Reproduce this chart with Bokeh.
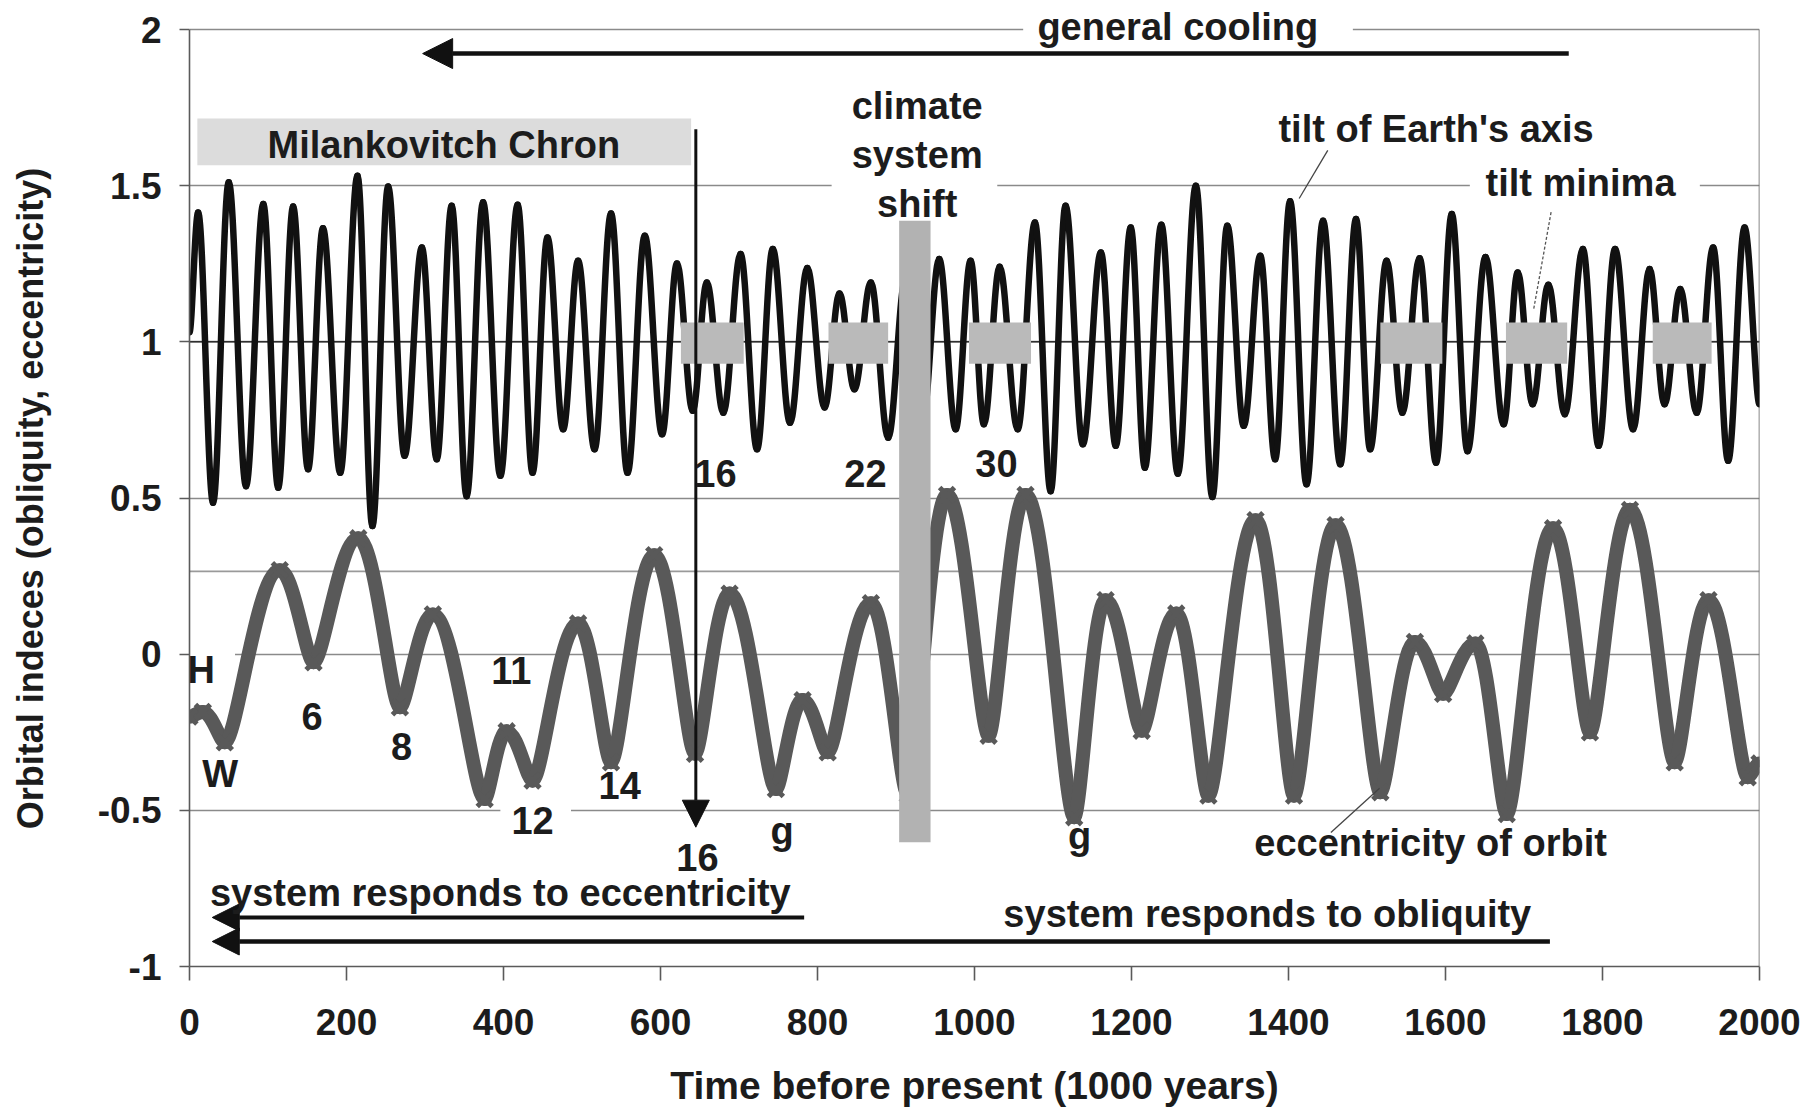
import numpy as np
from bokeh.plotting import figure
from bokeh.models import Range1d, FixedTicker, Label, Span, Arrow, NormalHead
from bokeh.embed import file_html
from bokeh.resources import INLINE

# ---------------- data ----------------
# obliquity (tilt) index: turning points of the black curve, time in kyr
obl_t = [0, 11, 30, 50, 72, 94, 113, 132, 151, 170, 192, 214, 233, 253, 274, 296,
         315, 334, 353, 374, 396, 418, 437, 456, 476, 495, 516, 537, 558, 580, 602,
         621, 641, 659, 680, 702, 723, 743, 765, 787, 809, 828, 847, 868, 890, 912,
         934, 955, 976, 995, 1012, 1032, 1055, 1077, 1097, 1116, 1138, 1161, 1180,
         1199, 1217, 1238, 1259, 1282, 1303, 1322, 1343, 1364, 1383, 1402, 1423,
         1444, 1466, 1486, 1504, 1525, 1545, 1567, 1588, 1608, 1628, 1651, 1674,
         1692, 1711, 1731, 1752, 1775, 1795, 1816, 1839, 1860, 1879, 1899, 1920,
         1941, 1960, 1981, 2000]
obl_v = [1.03, 1.414, 0.485, 1.511, 0.538, 1.441, 0.533, 1.433, 0.592, 1.364, 0.581,
         1.532, 0.41, 1.497, 0.635, 1.302, 0.624, 1.436, 0.506, 1.447, 0.571, 1.439,
         0.581, 1.334, 0.72, 1.26, 0.656, 1.411, 0.581, 1.34, 0.704, 1.251, 0.779,
         1.19, 0.773, 1.281, 0.656, 1.297, 0.741, 1.236, 0.79, 1.155, 0.848, 1.19,
         0.693, 1.2, 0.75, 1.265, 0.72, 1.26, 0.736, 1.24, 0.72, 1.382, 0.522, 1.436,
         0.672, 1.286, 0.667, 1.366, 0.597, 1.375, 0.578, 1.5, 0.503, 1.372, 0.731,
         1.276, 0.624, 1.45, 0.544, 1.388, 0.608, 1.393, 0.656, 1.26, 0.773, 1.268,
         0.613, 1.409, 0.65, 1.272, 0.736, 1.222, 0.80, 1.183, 0.768, 1.297, 0.667,
         1.297, 0.72, 1.233, 0.80, 1.169, 0.773, 1.302, 0.619, 1.366, 0.80]

# eccentricity index: turning points of the grey curve
ecc_t = [0, 17, 45, 115, 158, 215, 268, 310, 376, 404, 437, 495, 537, 592, 644, 688,
         747, 781, 813, 868, 915, 965, 1018, 1065, 1127, 1167, 1213, 1257, 1298,
         1358, 1407, 1460, 1517, 1561, 1597, 1638, 1678, 1737, 1784, 1835, 1892,
         1935, 1985, 2000]
ecc_v = [-0.20, -0.185, -0.282, 0.269, -0.026, 0.371, -0.17, 0.127, -0.464, -0.247,
         -0.405, 0.098, -0.346, 0.317, -0.319, 0.194, -0.432, -0.147, -0.314, 0.163,
         -0.45, 0.51, -0.261, 0.51, -0.522, 0.173, -0.245, 0.13, -0.453, 0.429,
         -0.453, 0.413, -0.442, 0.039, -0.127, 0.034, -0.512, 0.403, -0.25, 0.462,
         -0.346, 0.173, -0.394, -0.35]

# tilt-minima intervals (grey boxes on the obliquity curve)
tilt_min_start = [626, 814, 993, 1517, 1677, 1864]
tilt_min_end = [706, 890, 1072, 1596, 1755, 1939]

x_ticks = [0, 200, 400, 600, 800, 1000, 1200, 1400, 1600, 1800, 2000]
x_tick_labels = ["0", "200", "400", "600", "800", "1000", "1200", "1400", "1600", "1800", "2000"]
y_ticks = [-1, -0.5, 0, 0.5, 1, 1.5, 2]
y_tick_labels = ["-1", "-0.5", "0", "0.5", "1", "1.5", "2"]

# ---------------- helpers ----------------
FONT = "Liberation Sans"
TXT = "#1c1c1c"
DY = 0.037   # baseline correction for labels
Y_TOP = 2 + 29 / 312.33   # frame reaches the top of the page so the top label is not clipped


def bezier_columns(ts, vs, k_peak, k_trough, k_end=0.3):
    t = np.asarray(ts, float)
    v = np.asarray(vs, float)
    n = len(t)
    k = np.full(n, k_end)
    for i in range(1, n - 1):
        if v[i] >= v[i - 1] and v[i] >= v[i + 1]:
            k[i] = k_peak
        else:
            k[i] = k_trough
    dt = t[1:] - t[:-1]
    return dict(x0=t[:-1], y0=v[:-1], x1=t[1:], y1=v[1:],
                cx0=t[:-1] + k[:-1] * dt, cy0=v[:-1],
                cx1=t[1:] - k[1:] * dt, cy1=v[1:])


p = figure(width=1806, height=1110, x_range=Range1d(0, 2000), y_range=Range1d(-1, Y_TOP),
           output_backend="svg", toolbar_location=None,
           min_border_left=189, min_border_right=47, min_border_top=0, min_border_bottom=144)
p.background_fill_color = "white"
p.border_fill_color = "white"
p.outline_line_color = None

# axes
p.xaxis.ticker = FixedTicker(ticks=x_ticks)
p.xaxis.major_label_overrides = {t: s for t, s in zip(x_ticks, x_tick_labels)}
p.yaxis.ticker = FixedTicker(ticks=y_ticks)
p.yaxis.major_label_overrides = {t: s for t, s in zip(y_ticks, y_tick_labels)}
p.yaxis.bounds = (-1, 2)
for ax in (p.xaxis, p.yaxis):
    ax.axis_line_color = "#5a5a5a"
    ax.axis_line_width = 1.6
    ax.major_tick_line_color = "#5a5a5a"
    ax.major_tick_line_width = 1.6
    ax.major_tick_in = 0
    ax.minor_tick_line_color = None
    ax.major_label_text_font = FONT
    ax.major_label_text_font_style = "bold"
    ax.major_label_text_font_size = "37px"
    ax.major_label_text_color = TXT
    ax.axis_label_text_font = FONT
    ax.axis_label_text_font_style = "bold"
    ax.axis_label_text_color = TXT
p.xaxis.major_tick_out = 14
p.xaxis.major_label_standoff = 28
p.xaxis.axis_label = "Time before present (1000 years)"
p.xaxis.axis_label_text_font_size = "39px"
p.xaxis.axis_label_standoff = 26
p.yaxis.major_tick_out = 10
p.yaxis.major_label_standoff = 18
# trailing no-break spaces keep the title centred on the -1..2 axis span
p.yaxis.axis_label = "Orbital indeces (obliquity, eccentricity)" + "\u00a0" * 3
p.yaxis.axis_label_text_font_size = "36px"
p.yaxis.axis_label_standoff = 44

p.xgrid.grid_line_color = None
p.ygrid.ticker = FixedTicker(ticks=y_ticks)
p.ygrid.grid_line_color = "#8a8a8a"
p.ygrid.grid_line_width = 1.6

# extra reference lines
p.add_layout(Span(location=1, dimension="width", line_color="#111111", line_width=1.3, level="underlay"))
p.add_layout(Span(location=0.265, dimension="width", line_color="#9a9a9a", line_width=1.6, level="underlay"))
# right-hand border of the plot area
p.segment(x0=[2000], y0=[-1], x1=[2000], y1=[2], line_color="#6a6a6a", line_width=1.6)

# white gaps in the grid lines behind labels
gap_left = [818, 1631, 396, 0, 1062]
gap_right = [1029, 1924, 486, 58, 1482]
gap_bottom = [1.47, 1.47, -0.53, -0.03, 1.98]
gap_top = [1.53, 1.53, -0.47, 0.03, 2.02]
p.quad(left=gap_left, right=gap_right, bottom=gap_bottom, top=gap_top,
       fill_color="white", line_color=None)

# Milankovitch Chron box
p.quad(left=[10], right=[639], bottom=[1.565], top=[1.715], fill_color="#dcdcdc", line_color=None)

# obliquity curve
ob = bezier_columns(obl_t, obl_v, 0.3634, 0.3634)
p.bezier(x0=ob["x0"], y0=ob["y0"], x1=ob["x1"], y1=ob["y1"], cx0=ob["cx0"], cy0=ob["cy0"],
         cx1=ob["cx1"], cy1=ob["cy1"], line_color="#111111", line_width=6.5, line_cap="round")

# eccentricity curve
ECC = "#595959"
ec = bezier_columns(ecc_t, ecc_v, 0.42, 0.22)
p.bezier(x0=ec["x0"], y0=ec["y0"], x1=ec["x1"], y1=ec["y1"], cx0=ec["cx0"], cy0=ec["cy0"],
         cx1=ec["cx1"], cy1=ec["cy1"], line_color=ECC, line_width=14, line_cap="round")
p.scatter(ecc_t, ecc_v, marker="x", size=21, line_width=5, line_color=ECC)

# tilt-minima boxes
p.quad(left=tilt_min_start, right=tilt_min_end, bottom=[0.93] * len(tilt_min_start),
       top=[1.062] * len(tilt_min_start), fill_color="#bababa", line_color=None)

# climate system shift bar
p.quad(left=[904], right=[944], bottom=[-0.602], top=[1.388], fill_color="#b2b2b2", line_color=None)

# leader lines
p.segment(x0=[1450, 1454], y0=[1.613, -0.571], x1=[1413.6, 1516], y1=[1.459, -0.429],
          line_color="#444444", line_width=1.3)
p.segment(x0=[1734.5], y0=[1.415], x1=[1712], y1=[1.10], line_color="#555555",
          line_width=1.3, line_dash="3 2")


# arrows
def arrow(xs, ys, xe, ye, w=4, size=28):
    p.add_layout(Arrow(end=NormalHead(size=size, fill_color="#111111", line_color="#111111", line_width=1),
                       x_start=xs, y_start=ys, x_end=xe, y_end=ye,
                       line_color="#111111", line_width=w))


arrow(1757, 1.923, 297, 1.923, 4.5, 30)
arrow(645, 1.681, 645, -0.554, 3, 27)
arrow(783, -0.843, 29, -0.843, 4, 27)
arrow(1733, -0.92, 29, -0.92, 4.5, 27)


# labels
def label(x, y, text, size=38, bg=None):
    kw = {}
    if bg:
        kw = dict(background_fill_color=bg, background_fill_alpha=1.0)
    p.add_layout(Label(x=x, y=y + DY, text=text, text_align="center", text_baseline="alphabetic",
                       text_font=FONT, text_font_style="bold", text_font_size=f"{size}px",
                       text_color=TXT, **kw))


label(1259, 1.971, "general cooling")
label(324, 1.592, "Milankovitch Chron")
label(927, 1.718, "climate")
label(927, 1.561, "system")
label(927, 1.404, "shift")
label(1588, 1.645, "tilt of Earth's axis")
label(1772, 1.473, "tilt minima")
label(670, 0.543, "16")
label(861, 0.540, "22")
label(1028, 0.572, "30")
label(15, -0.089, "H")
label(39, -0.42, "W")
label(156, -0.235, "6")
label(270, -0.334, "8")
label(410, -0.089, "11")
label(437, -0.57, "12")
label(548, -0.458, "14")
label(647, -0.687, "16")
label(755, -0.602, "g")
label(1134, -0.618, "g")
label(1581, -0.641, "eccentricity of orbit")
label(396, -0.801, "system responds to eccentricity")
label(1373, -0.869, "system responds to obliquity")

open("out.html", "w").write(file_html(p, INLINE))
